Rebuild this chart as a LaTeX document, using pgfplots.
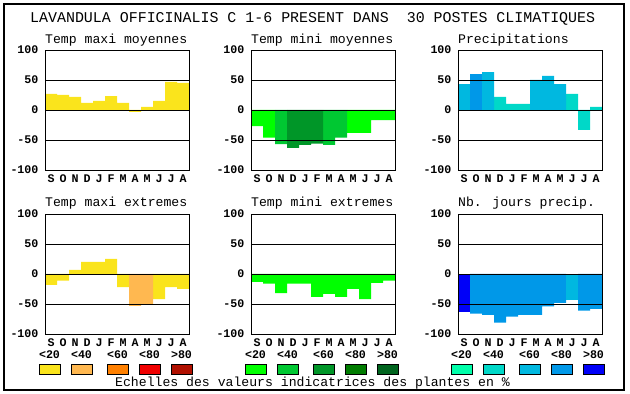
\documentclass[border=0pt]{standalone}
\usepackage{fontspec}
\usepackage{pgfplots}
\pgfplotsset{compat=1.18}
\setmainfont{Liberation Mono}
\newcommand\tfont{\fontsize{11.7}{12}\selectfont\bfseries}
\newcommand\hfont{\fontsize{13.2}{14}\selectfont}
\newcommand\mfont{\fontsize{15}{16}\selectfont}

\definecolor{c1}{RGB}{250,228,28}
\definecolor{c2}{RGB}{255,184,80}
\definecolor{c3}{RGB}{255,128,0}
\definecolor{c4}{RGB}{240,0,0}
\definecolor{c5}{RGB}{176,16,0}
\definecolor{g1}{RGB}{0,255,0}
\definecolor{g2}{RGB}{0,200,50}
\definecolor{g3}{RGB}{0,150,40}
\definecolor{g4}{RGB}{0,124,0}
\definecolor{g5}{RGB}{0,100,30}
\definecolor{b1}{RGB}{0,255,170}
\definecolor{b2}{RGB}{0,216,200}
\definecolor{b3}{RGB}{0,184,224}
\definecolor{b4}{RGB}{0,152,232}
\definecolor{b5}{RGB}{0,0,248}

\pgfplotsset{
  panel/.style={scale only axis, width=144bp, height=120bp, anchor=south west,
    xmin=-0.5, xmax=11.5, ymin=-100, ymax=100,
    xtick={0,...,11}, xticklabels={S,O,N,D,J,F,M,A,M,J,J,A},
    ytick={-100,-50,0,50,100}, yticklabels={-100,-50,0,50,100},
    major tick length=0pt, ymajorgrids,
    major grid style={black, line width=0.9bp},
    axis line style={line width=0.9bp},
    axis on top,
    tick label style={font=\tfont},
    yticklabel style={xshift=-3bp},
    xticklabel style={yshift=-1bp}},
  cbar/.style={ybar, bar width=1, bar shift=0pt, draw=none, fill=#1}
}

\begin{document}
\begin{tikzpicture}
\path[use as bounding box] (0,0) rectangle (630bp,394bp);
\draw[line width=1.3bp] (4bp,4bp) rectangle (624bp,390bp);

\node[anchor=base west, inner sep=0] at (30bp,371bp) {\mfont LAVANDULA OFFICINALIS C 1-6 PRESENT DANS\ \ 30 POSTES CLIMATIQUES};

% Row 1
\node[anchor=base west, inner sep=0] at (45bp,350bp) {\hfont Temp maxi moyennes};
\begin{axis}[panel, at={(45bp,224bp)}]
\addplot[cbar=c1] coordinates {(0,27)(1,25)(2,22)(3,12)(4,15)(5,23)(6,12)(7,-3)(8,5)(9,15)(10,47)(11,45)};
\end{axis}

\node[anchor=base west, inner sep=0] at (251bp,350bp) {\hfont Temp mini moyennes};
\begin{axis}[panel, at={(251bp,224bp)}]
\addplot[cbar=g1] coordinates {(0,-27)(1,-46)(8,-38)(9,-38)(10,-17)(11,-17)};
\addplot[cbar=g2] coordinates {(2,-57)(6,-58)(7,-46)};
\addplot[cbar=g3] coordinates {(3,-63)(4,-58)(5,-56)};
\end{axis}

\node[anchor=base west, inner sep=0] at (458bp,350bp) {\hfont Precipitations};
\begin{axis}[panel, at={(458bp,224bp)}]
\addplot[cbar=b2] coordinates {(3,22)(4,10)(5,10)(9,27)(10,-33)(11,5)};
\addplot[cbar=b3] coordinates {(0,43)(2,63)(6,50)(7,57)(8,43)};
\addplot[cbar=b4] coordinates {(1,60)};
\end{axis}

% Row 2
\node[anchor=base west, inner sep=0] at (45bp,187bp) {\hfont Temp maxi extremes};
\begin{axis}[panel, at={(45bp,60bp)}]
\addplot[cbar=c1] coordinates {(0,-18)(1,-11)(2,7)(3,20)(4,20)(5,25)(6,-22)(9,-42)(10,-22)(11,-25)};
\addplot[cbar=c2] coordinates {(7,-53)(8,-50)};
\end{axis}

\node[anchor=base west, inner sep=0] at (251bp,187bp) {\hfont Temp mini extremes};
\begin{axis}[panel, at={(251bp,60bp)}]
\addplot[cbar=g1] coordinates {(0,-13)(1,-16)(2,-32)(3,-16)(4,-16)(5,-38)(6,-33)(7,-38)(8,-25)(9,-42)(10,-15)(11,-11)};
\end{axis}

\node[anchor=base west, inner sep=0] at (458bp,187bp) {\hfont Nb. jours precip.};
\begin{axis}[panel, at={(458bp,60bp)}]
\addplot[cbar=b5] coordinates {(0,-64)};
\addplot[cbar=b4] coordinates {(1,-66)(2,-68)(3,-81)(4,-71)(5,-68)(6,-68)(7,-54)(8,-48)(10,-61)(11,-58)};
\addplot[cbar=b3] coordinates {(9,-43)};
\end{axis}

% Legends
\foreach \x/\c/\l in {39/c1/<20,71/c2/<40,107/c3/<60,139/c4/<80,171/c5/>80,
                      245/g1/<20,277/g2/<40,313/g3/<60,345/g4/<80,377/g5/>80,
                      451/b1/<20,483/b2/<40,519/b3/<60,551/b4/<80,583/b5/>80}{
  \draw[fill=\c, line width=0.8bp] (\x bp,20bp) rectangle ++(21bp,10bp);
  \node[anchor=base, inner sep=0] at ({(\x+10.5)*1bp},35.7bp) {\tfont \l};
}
\node[anchor=base west, inner sep=0] at (115bp,7.5bp) {\hfont Echelles des valeurs indicatrices des plantes en \%};
\end{tikzpicture}
\end{document}
